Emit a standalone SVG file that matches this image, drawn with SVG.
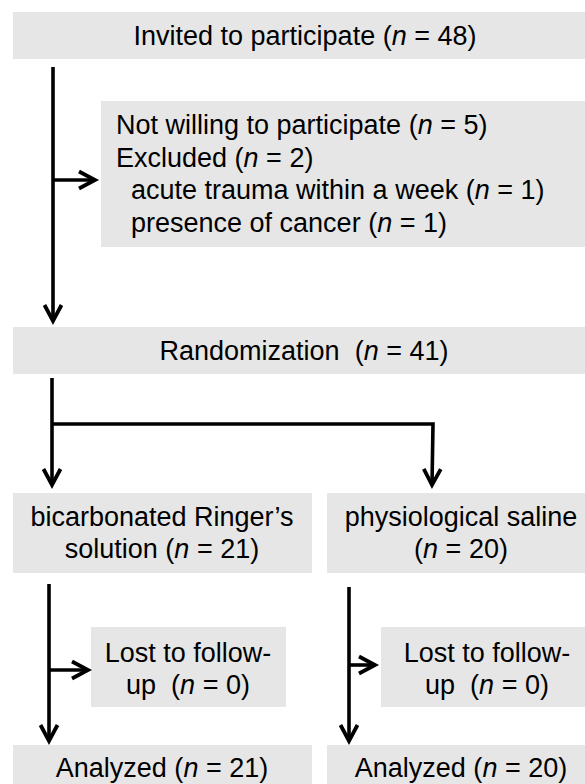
<svg xmlns="http://www.w3.org/2000/svg" width="585" height="784" viewBox="0 0 585 784">
<style>
.box{fill:#e6e6e6;stroke:none}
text{font-family:"Liberation Sans",Arial,sans-serif;font-size:27px;fill:#000;white-space:pre}
.c{text-anchor:middle}
.i{font-style:italic}
.ln{fill:none;stroke:#000;stroke-width:3.6;stroke-linejoin:miter}
</style>
<defs>
<marker id="ah" markerUnits="userSpaceOnUse" markerWidth="24" markerHeight="24" viewBox="-20 -12 24 24" refX="0" refY="0" orient="auto" overflow="visible">
<path d="M-16,-8.5 L0,0 L-16,8.5" fill="none" stroke="#000" stroke-width="3.8"/>
</marker>
</defs>
<rect width="585" height="784" fill="#fff"/>
<g id="invited"><rect class="box" x="13" y="12" width="572" height="47"/><text class="c" x="305" y="45">Invited to participate (<tspan class="i">n</tspan> = 48)</text></g>
<g id="excluded"><rect class="box" x="101" y="101" width="484" height="146"/>
<text x="116" y="134">Not willing to participate (<tspan class="i">n</tspan> = 5)</text>
<text x="116" y="167">Excluded (<tspan class="i">n</tspan> = 2)</text>
<text x="131" y="199">acute trauma within a week (<tspan class="i">n</tspan> = 1)</text>
<text x="131" y="232">presence of cancer (<tspan class="i">n</tspan> = 1)</text></g>
<g id="randomization"><rect class="box" x="13" y="327" width="572" height="47"/><text class="c" x="304" y="360">Randomization  (<tspan class="i">n</tspan> = 41)</text></g>
<g id="bicarb"><rect class="box" x="13" y="493" width="299" height="80"/><text class="c" x="162" y="526">bicarbonated Ringer’s</text><text class="c" x="162" y="558">solution (<tspan class="i">n</tspan> = 21)</text></g>
<g id="saline"><rect class="box" x="327" y="493" width="258" height="80"/><text class="c" x="461" y="526">physiological saline</text><text class="c" x="461" y="558">(<tspan class="i">n</tspan> = 20)</text></g>
<g id="lost1"><rect class="box" x="91" y="627" width="195" height="80"/><text class="c" x="188" y="662">Lost to follow-</text><text class="c" x="188" y="694">up  (<tspan class="i">n</tspan> = 0)</text></g>
<g id="lost2"><rect class="box" x="381" y="627" width="204" height="80"/><text class="c" x="487" y="662">Lost to follow-</text><text class="c" x="487" y="694">up  (<tspan class="i">n</tspan> = 0)</text></g>
<g id="analyzed1"><rect class="box" x="13" y="745" width="299" height="45"/><text class="c" x="162" y="777">Analyzed (<tspan class="i">n</tspan> = 21)</text></g>
<g id="analyzed2"><rect class="box" x="327" y="745" width="258" height="45"/><text class="c" x="461" y="777">Analyzed (<tspan class="i">n</tspan> = 20)</text></g>
<g id="connectors">
<path class="ln" d="M53,67 L53,321" marker-end="url(#ah)"/>
<path class="ln" d="M53,180 L95,180" marker-end="url(#ah)"/>
<path class="ln" d="M52,378 L52,485" marker-end="url(#ah)"/>
<path class="ln" d="M52,424 L433,424 L432,485" marker-end="url(#ah)"/>
<path class="ln" d="M49,584 L49,741" marker-end="url(#ah)"/>
<path class="ln" d="M49,670 L88,670" marker-end="url(#ah)"/>
<path class="ln" d="M349,587 L349,741" marker-end="url(#ah)"/>
<path class="ln" d="M349,665 L375,665" marker-end="url(#ah)"/>
</g>
</svg>
